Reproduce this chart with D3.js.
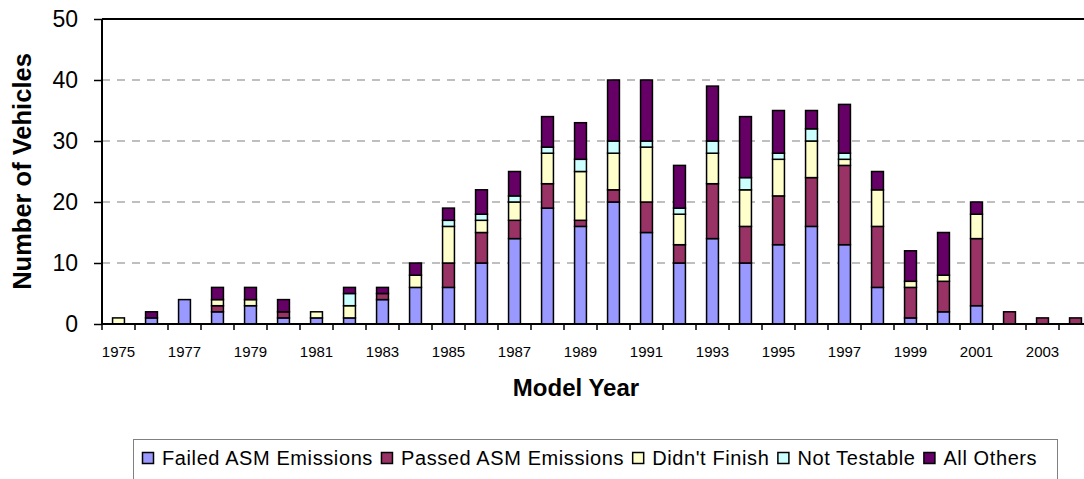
<!DOCTYPE html>
<html>
<head>
<meta charset="utf-8">
<script src="https://cdn.jsdelivr.net/npm/d3@7"></script>
<style>
  body { margin: 0; background: #fff; }
  svg { font-family: "Liberation Sans", Arial, sans-serif; }
</style>
</head>
<body>
<svg id="chart" width="1084" height="479"></svg>
<script>
// model years and counts per outcome
const years = d3.range(1975, 2005).map(String);
const failed     = [0,1,4,2,3,1,1,1,4,6,6,10,14,19,16,20,15,10,14,10,13,16,13,6,1,2,3,0,0,0];
const passed     = [0,0,0,1,0,1,0,0,1,0,4,5,3,4,1,2,5,3,9,6,8,8,13,10,5,5,11,2,1,1];
const didntFin   = [1,0,0,1,1,0,1,2,0,2,6,2,3,5,8,6,9,5,5,6,6,6,1,6,1,1,4,0,0,0];
const notTest    = [0,0,0,0,0,0,0,2,0,0,1,1,1,1,2,2,1,1,2,2,1,2,1,0,0,0,0,0,0,0];
const allOthers  = [0,1,0,2,2,2,0,1,1,2,2,4,4,5,6,10,10,7,9,10,7,3,8,3,5,7,2,0,0,0];
const seriesNames = ["Failed ASM Emissions", "Passed ASM Emissions", "Didn't Finish", "Not Testable", "All Others"];
const seriesColors = ["#9999FF", "#993366", "#FFFFCC", "#CCFFFF", "#660066"];
const yTicks = [0, 10, 20, 30, 40, 50];

const table = years.map((yr, i) => ({
  year: yr,
  [seriesNames[0]]: failed[i],
  [seriesNames[1]]: passed[i],
  [seriesNames[2]]: didntFin[i],
  [seriesNames[3]]: notTest[i],
  [seriesNames[4]]: allOthers[i]
}));

const plotL = 102, plotR = 1092, plotT = 19, plotB = 324;

const svg = d3.select("#chart");

const x = d3.scaleBand()
  .domain(years)
  .range([plotL, plotR])
  .paddingInner(0.64)
  .paddingOuter(0.32);

const step = x.step();

const y = d3.scaleLinear()
  .domain([0, 50])
  .range([plotB, plotT]);

// gridlines
svg.append("g")
  .selectAll("line")
  .data(yTicks.filter(d => d > 0 && d < 50))
  .join("line")
  .attr("x1", plotL).attr("x2", plotR)
  .attr("y1", d => y(d)).attr("y2", d => y(d))
  .attr("stroke", "#808080")
  .attr("stroke-width", 1.2)
  .attr("stroke-dasharray", "8,7");

// plot border top
svg.append("line")
  .attr("x1", plotL).attr("x2", plotR)
  .attr("y1", plotT).attr("y2", plotT)
  .attr("stroke", "#000").attr("stroke-width", 2);

const stack = d3.stack().keys(seriesNames);
const layers = stack(table);

svg.append("g")
  .selectAll("g")
  .data(layers)
  .join("g")
  .attr("fill", (d, i) => seriesColors[i])
  .selectAll("rect")
  .data(d => d.filter(s => s[1] - s[0] > 0))
  .join("rect")
  .attr("x", d => x(d.data.year))
  .attr("width", x.bandwidth())
  .attr("y", d => y(d[1]))
  .attr("height", d => y(d[0]) - y(d[1]))
  .attr("stroke", "#000")
  .attr("stroke-width", 1.5);

// y axis
const yAxis = svg.append("g")
  .attr("transform", `translate(${plotL},0)`)
  .call(d3.axisLeft(y).tickValues(yTicks).tickSize(8).tickPadding(16));
yAxis.select(".domain").attr("stroke-width", 2).attr("d", `M0,${plotB}V${plotT}`);
yAxis.selectAll(".tick line").attr("stroke-width", 1.5);
yAxis.selectAll("text")
  .style("font-size", "23px")
  .attr("fill", "#000");

// x axis: ticks between categories, labels every second year
const xAxis = svg.append("g")
  .attr("transform", `translate(0,${plotB})`);
xAxis.append("line")
  .attr("x1", plotL).attr("x2", plotR)
  .attr("stroke", "#000").attr("stroke-width", 2);
xAxis.selectAll(".tk")
  .data(years)
  .join("line")
  .attr("class", "tk")
  .attr("x1", d => x(d) - step * 0.32).attr("x2", d => x(d) - step * 0.32)
  .attr("y1", 0).attr("y2", 6)
  .attr("stroke", "#000").attr("stroke-width", 1.5);
xAxis.selectAll(".lbl")
  .data(years.filter((d, i) => i % 2 === 0))
  .join("text")
  .attr("class", "lbl")
  .attr("x", d => x(d) + x.bandwidth() / 2)
  .attr("y", 33)
  .attr("text-anchor", "middle")
  .style("font-size", "15px")
  .text(d => d);

// axis titles
svg.append("text")
  .attr("transform", `translate(31,${(plotT + plotB) / 2}) rotate(-90)`)
  .attr("text-anchor", "middle")
  .style("font-size", "25.5px")
  .style("font-weight", "bold")
  .text("Number of Vehicles");

svg.append("text")
  .attr("x", 576)
  .attr("y", 396)
  .attr("text-anchor", "middle")
  .style("font-size", "24px")
  .style("font-weight", "bold")
  .text("Model Year");

// legend
const legend = svg.append("g");
legend.append("rect")
  .attr("x", 133.5).attr("y", 439.5)
  .attr("width", 924).attr("height", 45)
  .attr("fill", "#fff")
  .attr("stroke", "#808080");

let lx = 142;
seriesNames.forEach((name, i) => {
  const g = legend.append("g").attr("transform", `translate(${lx},0)`);
  g.append("rect")
    .attr("x", 0.5).attr("y", 452.5)
    .attr("width", 11).attr("height", 11)
    .attr("fill", seriesColors[i])
    .attr("stroke", "#000").attr("stroke-width", 1.5);
  const t = g.append("text")
    .attr("x", 20).attr("y", 465)
    .style("font-size", "20px")
    .style("letter-spacing", "0.6px")
    .text(name);
  lx += 20 + t.node().getComputedTextLength() + 8;
});
</script>
</body>
</html>
